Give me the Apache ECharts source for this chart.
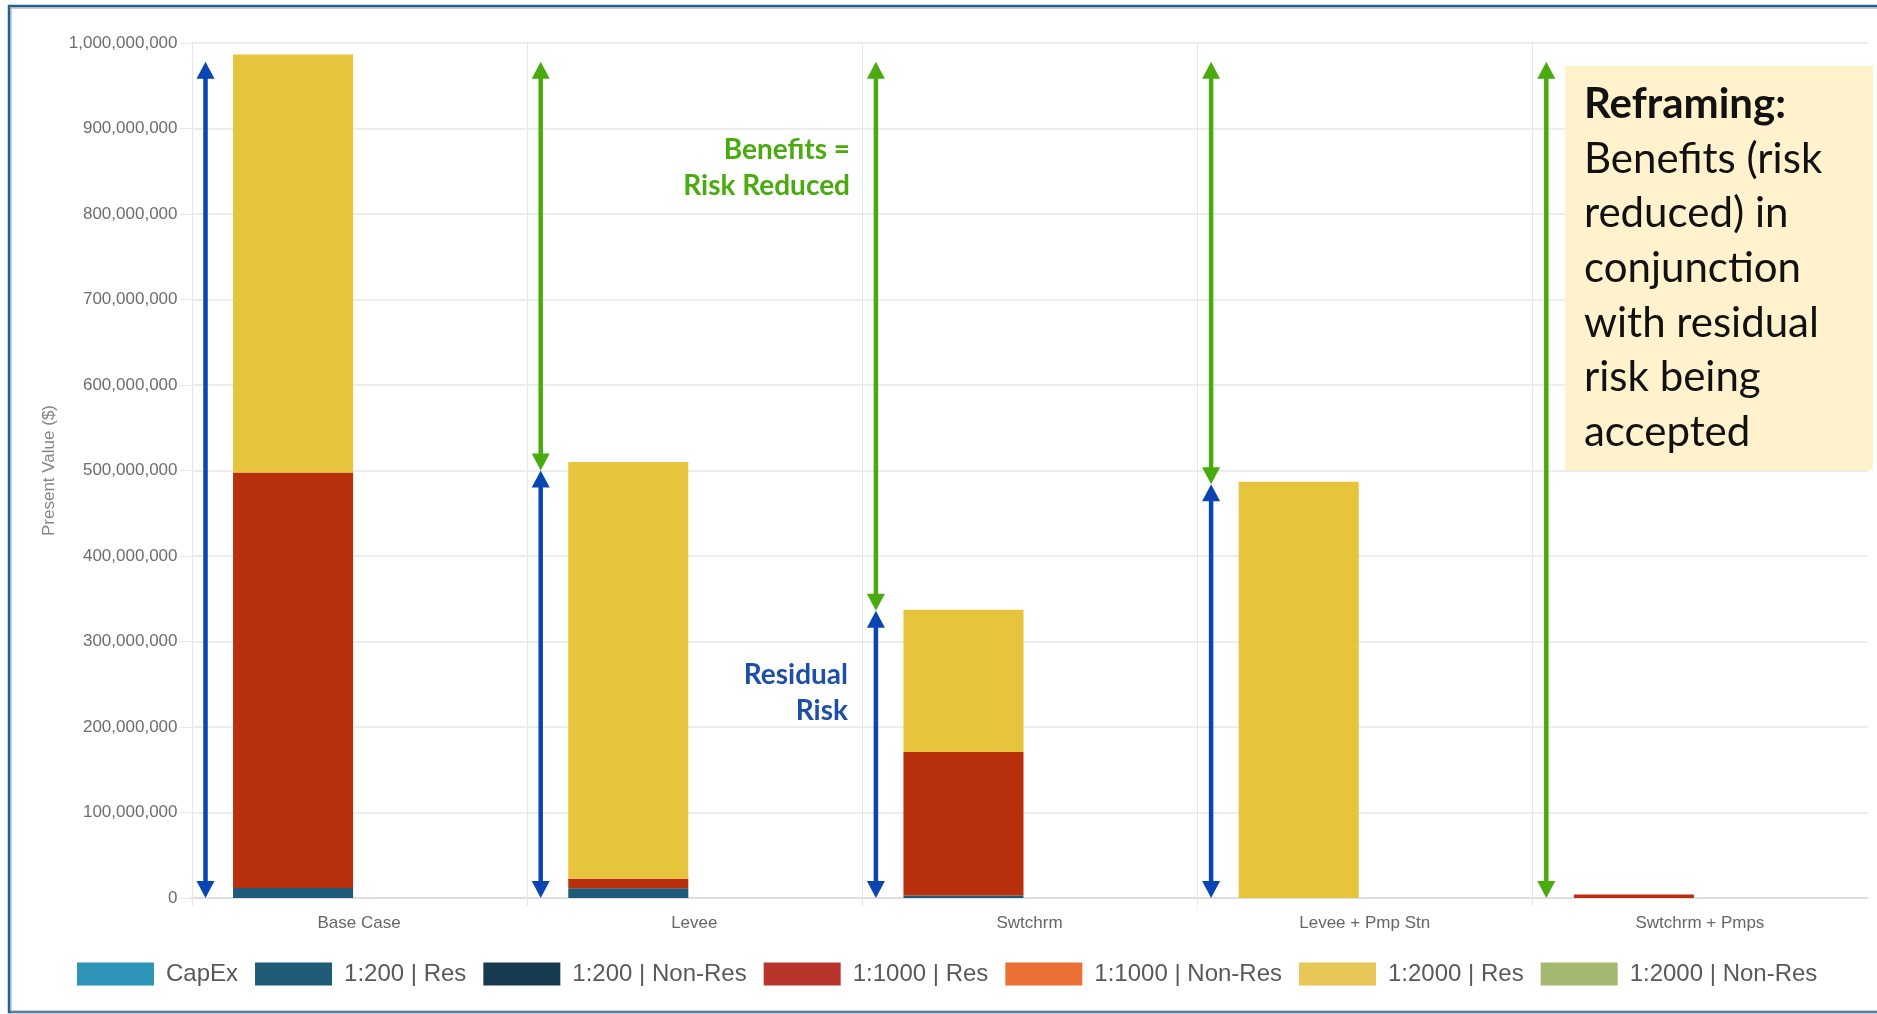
<!DOCTYPE html>
<html>
<head>
<meta charset="utf-8">
<title>Present Value by Alternative</title>
<script src="https://cdn.jsdelivr.net/npm/echarts@6/dist/echarts.min.js"></script>
<style>
  html, body { margin: 0; padding: 0; background: #ffffff; }
  #chart { width: 1877px; height: 1014px; }
</style>
</head>
<body>
<div id="chart"></div>
<script>
// Alternatives on the x axis
const categories = ['Base Case', 'Levee', 'Swtchrm', 'Levee + Pmp Stn', 'Swtchrm + Pmps'];

// Present value of risk by flood event and property type ($)
const capEx        = [0, 0, 0, 0, 0];
const r200Res      = [11.7e6, 11.5e6, 3.0e6, 0, 0];
const r200NonRes   = [0, 0, 0, 0, 0];
const r1000Res     = [485.9e6, 11.1e6, 167.7e6, 0, 4.0e6];
const r1000NonRes  = [0, 0, 0, 0, 0];
const r2000Res     = [488.9e6, 487.4e6, 166.3e6, 486.8e6, 0];
const r2000NonRes  = [0, 0, 0, 0, 0];

// Y axis ticks
const yMin = 0, yMax = 1e9, yStep = 1e8;

// Arrows: [category index, from value, to value]
const residualArrows = [
  [0, 0, 978e6],
  [1, 0, 500e6],
  [2, 0, 336e6],
  [3, 0, 484e6]
];
const benefitArrows = [
  [1, 500e6, 978e6],
  [2, 336e6, 978e6],
  [3, 484e6, 978e6],
  [4, 0, 978e6]
];

const seriesDefs = [
  { name: 'CapEx',            data: capEx,       color: '#2e95b8', legend: '#2e95b8' },
  { name: '1:200 | Res',      data: r200Res,     color: '#1f5b78', legend: '#1e5c78' },
  { name: '1:200 | Non-Res',  data: r200NonRes,  color: '#163a52', legend: '#163a52' },
  { name: '1:1000 | Res',     data: r1000Res,    color: '#b82f0c', legend: '#b9352c' },
  { name: '1:1000 | Non-Res', data: r1000NonRes, color: '#eb7036', legend: '#eb7036' },
  { name: '1:2000 | Res',     data: r2000Res,    color: '#e6c43b', legend: '#e8c657' },
  { name: '1:2000 | Non-Res', data: r2000NonRes, color: '#a5b86f', legend: '#a5b86f' }
];

const BLUE = '#0b45b3';
const GREEN = '#4aab0f';
const GRID_COLOR = '#e6e6e6';
const axisFont = 'Liberation Sans, Arial, sans-serif';
const noteFont = 'Lato, "Open Sans", sans-serif';

function arrowRenderer(color) {
  return function (params, api) {
    const cat = api.value(0);
    const pLow = api.coord([cat, api.value(1)]);
    const pHigh = api.coord([cat, api.value(2)]);
    const band = api.size([1, 0])[0];
    const x = pLow[0] - band / 2 + 14;
    const yLow = pLow[1];
    const yHigh = pHigh[1];
    const hw = 9, hh = 17;
    return {
      type: 'group',
      children: [
        {
          type: 'line',
          shape: { x1: x, y1: yHigh + hh - 1, x2: x, y2: yLow - hh + 1 },
          style: { stroke: color, lineWidth: 4.5 }
        },
        {
          type: 'polygon',
          shape: { points: [[x, yHigh], [x - hw, yHigh + hh], [x + hw, yHigh + hh]] },
          style: { fill: color }
        },
        {
          type: 'polygon',
          shape: { points: [[x, yLow], [x - hw, yLow - hh], [x + hw, yLow - hh]] },
          style: { fill: color }
        }
      ]
    };
  };
}

// Vertical separator on the left edge of each category, running down past the axis as a tick
function separatorRenderer(params, api) {
  const cat = api.value(0);
  const top = api.coord([cat, yMax]);
  const base = api.coord([cat, yMin]);
  const band = api.size([1, 0])[0];
  const x = Math.round(top[0] - band / 2) + 0.5;
  return {
    type: 'line',
    shape: { x1: x, y1: top[1], x2: x, y2: base[1] + 8 },
    style: { stroke: GRID_COLOR, lineWidth: 1 }
  };
}

const barSeries = seriesDefs.map(d => ({
  name: d.name,
  type: 'bar',
  stack: 'risk',
  data: d.data,
  barCategoryGap: '24.8%',
  barGap: '10%',
  itemStyle: { color: d.color },
  emphasis: { disabled: true },
  z: 3
}));

// Empty companion stack keeps each drawn bar in the left slot of its category
barSeries.push({
  name: 'companion',
  type: 'bar',
  stack: 'companion',
  data: [0, 0, 0, 0, 0],
  barCategoryGap: '24.8%',
  barGap: '10%',
  itemStyle: { color: 'rgba(0,0,0,0)' },
  silent: true
});

const noteLines = ['Benefits (risk', 'reduced) in', 'conjunction', 'with residual', 'risk being', 'accepted'];

const option = {
  backgroundColor: '#ffffff',
  animation: false,
  grid: { left: 191.5, right: 9.5, top: 43, bottom: 116, containLabel: false },
  legend: {
    left: 77,
    top: 962,
    padding: 0,
    itemWidth: 77,
    itemHeight: 23,
    itemGap: 17,
    icon: 'rect',
    selectedMode: false,
    textStyle: { fontSize: 24, color: '#595959', fontFamily: axisFont, padding: [0, 0, 0, 7] },
    data: seriesDefs.map(d => ({ name: d.name, itemStyle: { color: d.legend } }))
  },
  xAxis: {
    type: 'category',
    data: categories,
    axisLine: { show: true, lineStyle: { color: '#d9d9d9', width: 1.5 } },
    axisTick: { show: false },
    axisLabel: { fontSize: 17, color: '#666666', fontFamily: axisFont, margin: 17 },
    splitLine: { show: false }
  },
  yAxis: {
    type: 'value',
    min: yMin,
    max: yMax,
    interval: yStep,
    name: 'Present Value ($)',
    nameLocation: 'middle',
    nameGap: 134,
    nameTextStyle: { fontSize: 17, color: '#858585', fontFamily: axisFont },
    axisLine: { show: false },
    axisTick: { show: true, length: 12, lineStyle: { color: GRID_COLOR } },
    axisLabel: {
      fontSize: 17, color: '#6d6d6d', fontFamily: axisFont, margin: 14,
      formatter: v => v.toLocaleString('en-US')
    },
    splitLine: { show: true, lineStyle: { color: GRID_COLOR, width: 1.5 } }
  },
  series: barSeries.concat([
    {
      type: 'custom',
      name: 'separators',
      renderItem: separatorRenderer,
      encode: { x: 0, y: 1 },
      data: categories.map((c, i) => [i, 0]),
      clip: false,
      z: 1,
      silent: true
    },
    {
      type: 'custom',
      name: 'Residual Risk',
      renderItem: arrowRenderer(BLUE),
      encode: { x: 0, y: [1, 2] },
      data: residualArrows,
      z: 10,
      silent: true
    },
    {
      type: 'custom',
      name: 'Benefits',
      renderItem: arrowRenderer(GREEN),
      encode: { x: 0, y: [1, 2] },
      data: benefitArrows,
      z: 10,
      silent: true
    }
  ]),
  graphic: [
    // frame
    { type: 'rect', shape: { x: 9, y: 6, width: 1880, height: 1006 },
      style: { fill: 'none', stroke: '#1f6396', lineWidth: 2.5 }, z: 100 },
    { type: 'rect', shape: { x: 11, y: 8, width: 1880, height: 1004 },
      style: { fill: 'none', stroke: '#9a9a9a', lineWidth: 1 }, z: 100 },
    // annotation labels
    { type: 'text', x: 850, y: 150, z: 50,
      style: { text: 'Benefits =', fill: GREEN, font: 'bold 28px ' + noteFont, align: 'right', verticalAlign: 'middle' } },
    { type: 'text', x: 850, y: 186, z: 50,
      style: { text: 'Risk Reduced', fill: GREEN, font: 'bold 28px ' + noteFont, align: 'right', verticalAlign: 'middle' } },
    { type: 'text', x: 848, y: 675, z: 50,
      style: { text: 'Residual', fill: '#1e4fa8', font: 'bold 28px ' + noteFont, align: 'right', verticalAlign: 'middle' } },
    { type: 'text', x: 848, y: 711, z: 50,
      style: { text: 'Risk', fill: '#1e4fa8', font: 'bold 28px ' + noteFont, align: 'right', verticalAlign: 'middle' } },
    // note box
    { type: 'rect', shape: { x: 1565, y: 66, width: 308, height: 404 },
      style: { fill: '#fff2cc' }, z: 40 },
    { type: 'text', x: 1584, y: 104, z: 50,
      style: { text: 'Reframing:', fill: '#111111', font: 'bold 42px ' + noteFont, verticalAlign: 'middle' } }
  ].concat(noteLines.map((t, i) => ({
    type: 'text', x: 1584, y: 159 + i * 54.7, z: 50,
    style: { text: t, fill: '#111111', font: '42px ' + noteFont, verticalAlign: 'middle' }
  })))
};

const chart = echarts.init(document.getElementById('chart'), null, { renderer: 'canvas' });
chart.setOption(option);
</script>
</body>
</html>
